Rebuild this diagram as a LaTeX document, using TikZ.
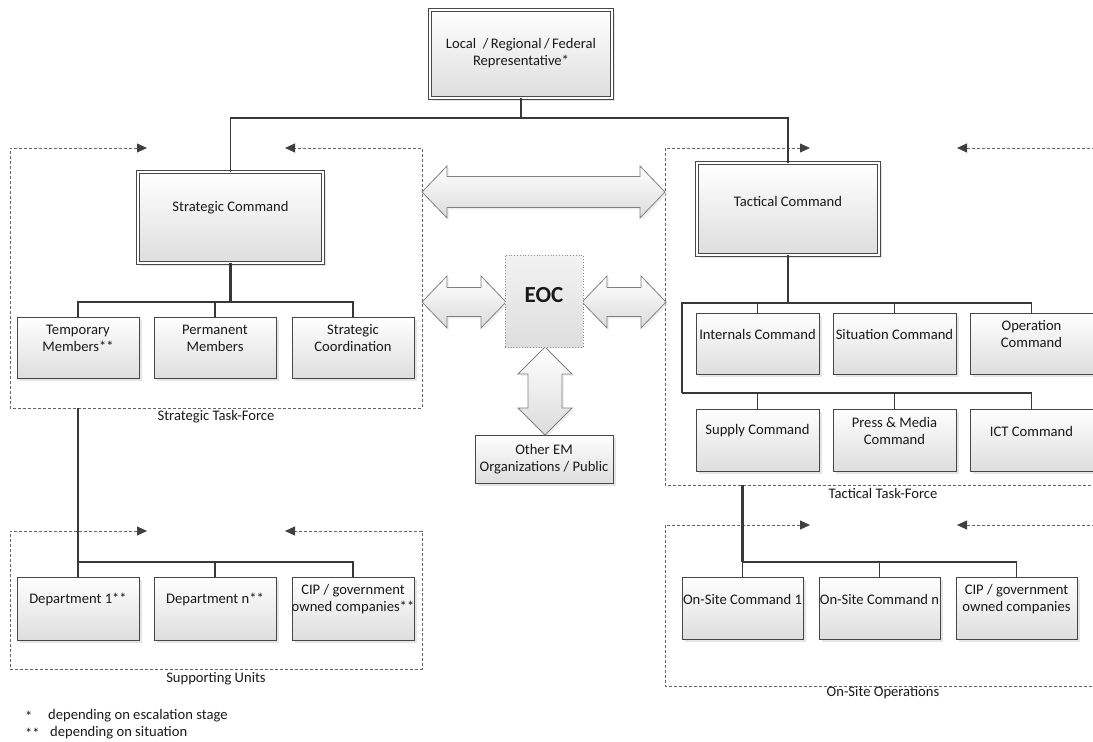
\documentclass[tikz,border=0pt]{standalone}
\usepackage{fontspec}
\setmainfont{Carlito}
\usetikzlibrary{arrows.meta,shadows,calc}

% box with its text set a little above the centre
\newcommand\orgbox[7][box]{%
  \node[#1, minimum width=#4, minimum height=#5] (#2) at (#3) {};
  \node[txt] (#2-t) at ($(#2.center)+(0,-#6)$) {#7};
}
% horizontal double-headed block arrow: x1, x2, y, half shaft, half head, head length
\newcommand\harrowshape[6]{%
  \path[barrow] (#1,#3) -- ({#1+#6},{#3-#5}) -- ({#1+#6},{#3-#4}) -- ({#2-#6},{#3-#4})
    -- ({#2-#6},{#3-#5}) -- (#2,#3) -- ({#2-#6},{#3+#5}) -- ({#2-#6},{#3+#4})
    -- ({#1+#6},{#3+#4}) -- ({#1+#6},{#3+#5}) -- cycle;}
% vertical double-headed block arrow: y1, y2, x, half shaft, half head, head length
\newcommand\varrowshape[6]{%
  \path[barrow] (#3,#1) -- ({#3-#5},{#1+#6}) -- ({#3-#4},{#1+#6}) -- ({#3-#4},{#2-#6})
    -- ({#3-#5},{#2-#6}) -- (#3,#2) -- ({#3+#5},{#2-#6}) -- ({#3+#4},{#2-#6})
    -- ({#3+#4},{#1+#6}) -- ({#3+#5},{#1+#6}) -- cycle;}

\begin{document}
\begin{tikzpicture}[x=1pt,y=-1pt,
  font=\fontsize{14.6}{17}\selectfont,
  every node/.style={inner sep=0pt},
  box/.style={draw=black!72, line width=0.9pt, top color=white, bottom color=black!13,
    drop shadow={shadow xshift=3pt, shadow yshift=-3pt, fill=black!20}},
  mainbox/.style={box, double=white, double distance=2pt, line width=0.8pt},
  eocbox/.style={draw=black!45, line width=0.8pt, dotted, top color=black!5, bottom color=black!13},
  txt/.style={align=center, text=black!90},
  conn/.style={draw=black!78, line width=1.3pt},
  midconn/.style={draw=black!78, line width=1.9pt},
  spine/.style={draw=black!78, line width=2.4pt},
  grp/.style={draw=black!60, line width=0.8pt, dash pattern=on 3pt off 2pt,
    >={Triangle[length=10pt,width=9pt,color=black!75]}},
  barrow/.style={draw=black!50, line width=0.8pt, top color=white, bottom color=black!14,
    drop shadow={shadow xshift=2pt, shadow yshift=-2pt, fill=black!12}},
]
\useasboundingbox (0,0) rectangle (1093,742);

% ---------- group frames ----------
\draw[grp,<->] (147,148) -- (10,148) -- (10,408) -- (422,408) -- (422,148) -- (285,148);
\draw[grp,<->] (147,531) -- (10,531) -- (10,669) -- (422,669) -- (422,531) -- (285,531);
\draw[grp,<-] (810,148) -- (665,148) -- (665,485) -- (1100,485);
\draw[grp,->] (1100,148) -- (957,148);
\draw[grp,<-] (810,525) -- (665,525) -- (665,686) -- (1100,686);
\draw[grp,->] (1100,525) -- (957,525);

\node[txt] (stf-lab) at (216,417) {Strategic Task-Force};
\node[txt] (su-lab) at (216,679) {Supporting Units};
\node[txt] (ttf-lab) at (883,493) {Tactical Task-Force};
\node[txt] (os-lab) at (883,693) {On-Site Operations};

% ---------- block arrows round the EOC ----------
\harrowshape{422}{665}{192}{15.5}{26}{25}
\harrowshape{422}{506}{302}{14.5}{26}{25}
\harrowshape{582}{666}{302}{14.5}{26}{25}
\varrowshape{347}{435}{545}{17}{27}{27}

% ---------- boxes ----------
\orgbox[mainbox]{local}{521,54}{182pt}{88pt}{1}{Local~~/\,Regional\,/\,Federal\\Representative*}
\orgbox[mainbox]{strat}{230.5,217.5}{185pt}{91pt}{9.5}{Strategic Command}
\orgbox[mainbox]{tact}{788,209}{182pt}{92pt}{8}{Tactical Command}

\orgbox{temp}{78,347.5}{122pt}{61pt}{9}{Temporary\\Members**}
\orgbox{perm}{215,347.5}{122pt}{61pt}{9}{Permanent\\Members}
\orgbox{scoord}{353,347.5}{122pt}{61pt}{9}{Strategic\\Coordination}

\orgbox{dep1}{78,608.5}{122pt}{63pt}{9}{Department 1**}
\orgbox{depn}{215,608.5}{122pt}{63pt}{9}{Department n**}
\orgbox{cips}{353,608.5}{122pt}{63pt}{9}{CIP / government\\owned companies**}

\orgbox{internals}{757.5,343.5}{123pt}{61pt}{9}{Internals Command}
\orgbox{situation}{894.5,343.5}{123pt}{61pt}{9}{Situation Command}
\orgbox{operation}{1031.5,343.5}{123pt}{61pt}{9}{Operation\\Command}
\orgbox{supply}{757.5,440}{123pt}{62pt}{9}{Supply Command}
\orgbox{press}{894.5,440}{123pt}{62pt}{9}{Press \& Media\\Command}
\orgbox{ict}{1031.5,440}{123pt}{62pt}{9}{ICT Command}

\orgbox{os1}{742.5,608}{121pt}{62pt}{9}{On-Site Command 1}
\orgbox{osn}{879.5,608}{121pt}{62pt}{9}{On-Site Command n}
\orgbox{cipt}{1016.5,608}{121pt}{62pt}{9}{CIP / government\\owned companies}

\node[eocbox, minimum width=78pt, minimum height=92pt] (eoc) at (544,301) {};
\node[txt, font=\fontsize{23}{26}\selectfont\bfseries] (eoc-t) at ($(eoc.center)+(0,-6)$) {EOC};
\orgbox{other}{544,459}{138pt}{48pt}{0}{Other EM\\Organizations / Public}

% ---------- connectors ----------
\coordinate (j0) at (521,118);
\draw[conn] (local.south) -- (j0);
\draw[conn] (strat.north) |- (j0) -| (tact.north);

\coordinate (j1) at (230.5,302);
\draw[spine] (strat.south) -- (j1);
\draw[conn] (temp.north) |- (j1) -| (scoord.north);
\draw[conn] (perm.north) -- (perm.north |- j1);

\coordinate (stf-bot) at (78,408);
\coordinate (s1) at (78,562);
\draw[spine] (stf-bot) -- (s1);
\draw[midconn] (s1) -| (cips.north);
\draw[conn] (dep1.north) -- (s1);
\draw[conn] (depn.north) -- (depn.north |- s1);

\coordinate (t1) at (788,303);
\coordinate (tl2) at (682,393);
\draw[spine] (tact.south) -- (t1) -| (tl2);
\draw[conn] (t1) -| (operation.north);
\draw[conn] (internals.north) -- (internals.north |- t1);
\draw[conn] (situation.north) -- (situation.north |- t1);
\draw[midconn] (tl2) -| (ict.north);
\draw[conn] (supply.north) -- (supply.north |- tl2);
\draw[conn] (press.north) -- (press.north |- tl2);

\coordinate (ttf-bot) at (742.5,485);
\coordinate (o1) at (742.5,562);
\draw[spine] (ttf-bot) -- (o1);
\draw[midconn] (o1) -| (cipt.north);
\draw[conn] (os1.north) -- (o1);
\draw[conn] (osn.north) -- (osn.north |- o1);

% ---------- footnotes ----------
\node[anchor=west, text=black!90] (fn1s) at (25,716) {*};
\node[anchor=west, text=black!90] (fn1) at (48,716) {depending on escalation stage};
\node[anchor=west, text=black!90] (fn2s) at (25,733) {**};
\node[anchor=west, text=black!90] (fn2) at (50,733) {depending on situation};
\end{tikzpicture}
\end{document}
